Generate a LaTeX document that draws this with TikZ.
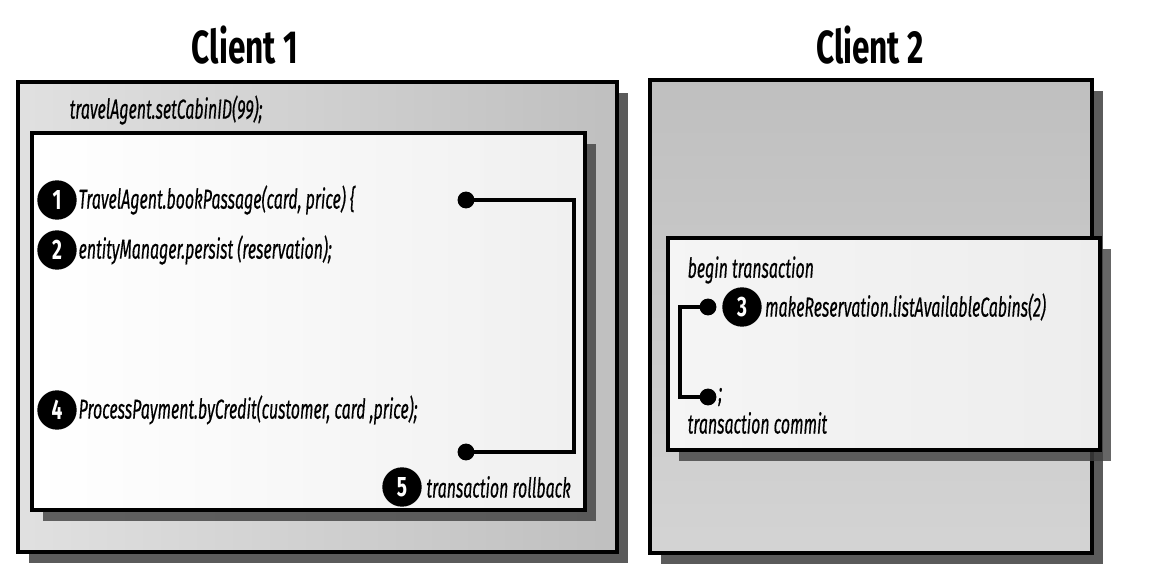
\documentclass[tikz,border=0pt]{standalone}
\usepackage{fontspec}
\newfontfamily\codefont{Fira Sans}[FakeStretch=0.58,FakeBold=0.4]
\newfontfamily\titlefont{Fira Sans}[FakeStretch=0.68]
\usetikzlibrary{positioning,shadows,calc}

\tikzset{
  title/.style={font=\titlefont\bfseries\fontsize{33}{36}\selectfont},
  code/.style={font=\codefont\itshape\fontsize{19.5}{21}\selectfont,inner sep=1pt},
  badge/.style={circle,fill=black,text=white,inner sep=0pt,minimum size=28pt,
    font=\titlefont\bfseries\fontsize{20}{20}\selectfont},
  dot/.style={circle,fill=black,inner sep=0pt,minimum size=12pt},
  outerbox/.style={draw=black,line width=2.2pt,
    drop shadow={shadow xshift=8pt,shadow yshift=-8pt,fill=black!80,opacity=.8}},
  innerbox/.style={draw=black,line width=2.2pt,
    drop shadow={shadow xshift=8pt,shadow yshift=-8pt,fill=black!75,opacity=.8}},
  link/.style={line width=2.2pt}
}

\begin{document}
\begin{tikzpicture}[x=0.025cm,y=-0.025cm]
  \useasboundingbox[fill=white] (0,0) rectangle (1160,584);

  % titles
  \node[title] (client1) at (245,45) {Client 1};
  \node[title] (client2) at (870,45) {Client 2};

  % client 1
  \draw[outerbox,left color=black!12,right color=black!25] (18,82) rectangle (617,552);
  \node[code,anchor=west] (setid) at (68,110) {travelAgent.setCabinID(99);};
  \draw[innerbox,left color=white,right color=black!6] (32,133) rectangle (585,510);

  \node[badge] (b1) at (57,200) {1};
  \node[code,right=0pt of b1] (book) {TravelAgent.bookPassage(card, price) \{};
  \node[badge] (b2) at (57,250) {2};
  \node[code,right=0pt of b2] (persist) {entityManager.persist (reservation);};
  \node[badge] (b4) at (57,410) {4};
  \node[code,right=0pt of b4] (credit) {ProcessPayment.byCredit(customer, card ,price);};
  \node[badge] (b5) at (402,487) {5};
  \node[code,right=2pt of b5] (rollback) {transaction rollback};

  \node[dot] (d1) at (466,200) {};
  \node[dot] (d5) at (466,452) {};
  \coordinate (r1) at (574,200);
  \draw[link] (d1.center) -- (r1) |- (d5.center);

  % client 2
  \draw[outerbox,top color=black!25,bottom color=black!17] (650,80) rectangle (1092,553);
  \draw[innerbox,left color=black!4,right color=black!7] (668,238) rectangle (1100,450);
  \node[code,anchor=west] (begin) at (686,270) {begin transaction};
  \node[dot] (d3) at (708,307) {};
  \node[badge] (b3) at (742,307) {3};
  \node[code,right=1pt of b3] (cabins) {makeReservation.listAvailableCabins(2)};
  \node[dot] (d6) at (708,397) {};
  \node[code,right=0pt of d6] (semi) {;};
  \coordinate (l3) at (680,307);
  \draw[link] (d3.center) -- (l3) |- (d6.center);
  \node[code,anchor=west] (commit) at (686,423) {transaction commit};
\end{tikzpicture}
\end{document}
